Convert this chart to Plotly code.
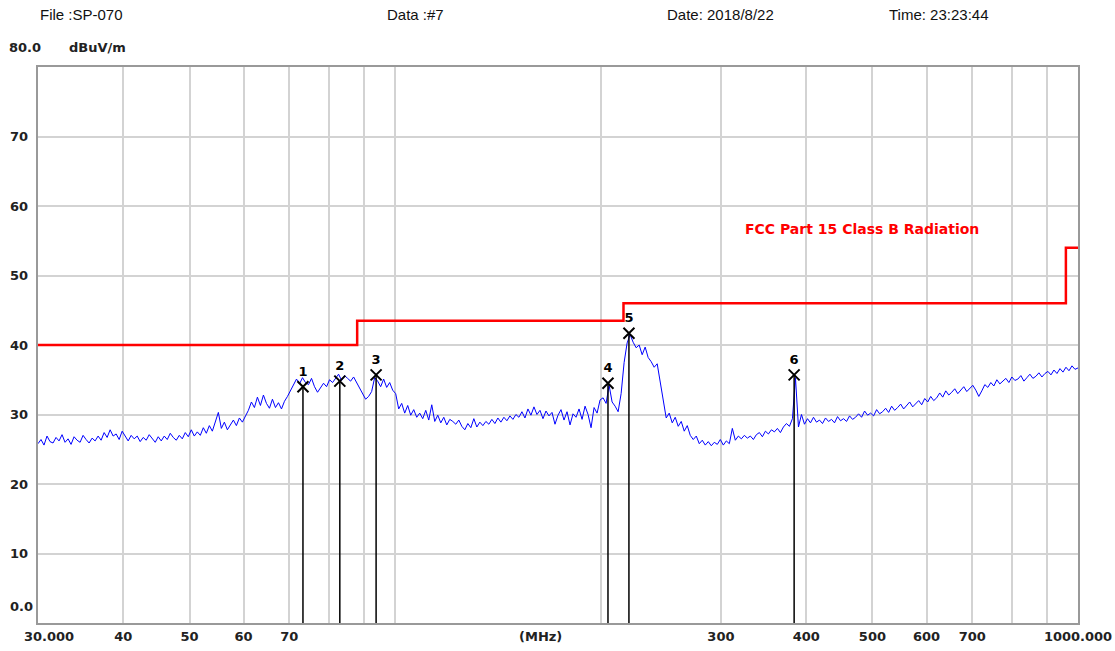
import numpy as np
import plotly.graph_objects as go

# ---------------- data ----------------
trace_vals = [
    25.8, 26.4, 25.6, 26.9, 26.1, 25.9, 26.7, 26.2, 27.1, 26.0, 26.5, 25.7, 26.8, 26.3, 26.0, 27.0, 26.4, 25.9, 26.6, 26.2,
    26.9, 26.3, 27.4, 26.7, 27.8, 26.9, 27.2, 26.4, 27.6, 26.8, 26.2, 27.0, 26.5, 26.9, 26.1, 26.7, 26.3, 27.1, 26.6, 26.0,
    26.8, 26.2, 26.9, 26.4, 27.3, 26.7, 26.3, 27.0, 26.5, 27.4, 26.8, 27.8, 26.9, 27.5, 27.0, 28.1, 27.3, 28.4, 27.6, 29.0,
    30.3, 28.0, 28.9, 27.8, 28.6, 29.2, 28.4, 29.5, 28.9, 29.8,
    30.6, 31.8, 31.0, 32.5, 31.3, 32.8, 31.6, 30.9, 32.2, 31.0, 31.7, 30.8, 31.9, 32.6,
    33.5, 34.2, 35.1, 34.4, 35.3, 34.6,
    34.3, 35.2, 34.0, 33.2, 33.8, 34.5, 34.0, 35.0, 34.6, 35.3,
    35.8, 34.9, 35.6, 35.2, 34.8, 35.4, 34.6, 33.8, 32.9, 32.2,
    32.6, 33.3, 35.3, 34.8, 34.0, 35.1, 33.9, 34.6, 33.5, 33.0,
    30.8, 31.6, 30.2, 31.3, 29.9, 30.7, 29.6, 30.2, 29.4, 30.6, 29.2, 31.4, 29.0, 29.9, 28.8, 29.6, 28.5, 29.3, 29.0, 28.6,
    29.2, 28.3, 27.8, 28.7, 28.1, 29.4, 28.2, 28.9, 28.4, 29.0, 28.6, 29.3, 28.7, 29.5, 28.9, 29.6, 29.1, 29.8, 29.3, 30.0,
    29.6, 30.4, 29.5, 30.8, 29.9, 31.1, 30.0, 30.6, 29.4, 30.5, 29.8, 30.3, 28.6, 29.9, 30.7, 29.2, 30.4, 28.5, 30.1, 29.6,
    30.8, 29.3, 31.2, 30.0, 28.1, 31.0, 30.2, 32.1, 32.4, 31.6, 34.2, 31.8, 31.2, 30.4, 33.0,
    37.5, 40.3, 41.5, 40.4, 39.6,
    40.0, 38.6, 39.7, 38.2, 37.6, 36.8, 37.3, 34.8, 32.5, 29.5,
    30.2, 28.8, 29.6, 28.3, 29.0, 27.6, 28.4, 27.0, 26.4, 26.9,
    25.8, 26.3, 25.6, 26.1, 25.5, 26.0, 25.7, 26.4, 25.6, 26.2, 25.8, 28.0, 26.3, 26.9, 26.5, 27.0, 26.6, 26.9, 26.4, 27.1,
    27.4, 26.8, 27.6, 27.2, 27.8, 27.5, 28.0, 27.4, 28.2, 28.7, 28.3, 29.4,
    35.3, 28.2,
    30.0, 28.6, 29.4, 28.8, 29.6, 28.9, 29.2, 28.7, 29.5, 29.0, 29.3, 28.8, 29.7, 29.1, 29.4, 29.0, 29.8, 29.3, 29.6, 30.1,
    29.6, 30.5, 29.9, 30.2, 29.8, 30.7, 30.1, 30.4, 30.9, 30.3, 31.2, 30.6, 31.0, 31.5, 30.8, 31.3, 31.8, 31.1, 31.6, 32.0,
    31.4, 32.3, 31.8, 32.6, 32.0, 32.4, 33.1, 32.5, 33.4, 32.8, 33.2, 33.7, 33.0, 33.5, 34.0, 33.3, 33.8, 34.2, 33.5, 32.6,
    33.4, 34.3, 33.9, 34.6, 34.1, 35.0, 34.4, 34.8, 35.2, 34.6, 35.4, 34.9, 35.1, 35.6, 34.8, 35.3, 35.8, 35.2, 35.5, 36.0,
    35.4, 35.9, 36.2, 35.7, 36.4, 35.9, 36.6, 36.1, 36.8, 36.3, 37.0, 36.5, 36.7,
]
f_start, f_stop = 30.0, 1000.0

limit_freq = [30, 88, 216, 960, 1000]
limit_level = [40.0, 43.5, 46.0, 54.0, 54.0]

marker_ids = ["1", "2", "3", "4", "5", "6"]
marker_freq = [73.3, 83.0, 93.8, 205.0, 220.0, 384.0]
marker_level = [34.0, 34.8, 35.7, 34.5, 41.7, 35.7]

grid_freq = [40, 50, 60, 70, 80, 90, 100, 200, 300, 400, 500, 600, 700, 800, 900]
tick_freq = [40, 50, 60, 70, 300, 400, 500, 600, 700, 1000]
tick_text = ["40", "50", "60", "70", "300", "400", "500", "600", "700", "1000.000"]
start_label = "30.000"
y_ticks = [10, 20, 30, 40, 50, 60, 70]
y_text = ["10", "20", "30", "40", "50", "60", "70"]

# ---------------- figure ----------------
freqs = np.geomspace(f_start, f_stop, len(trace_vals))
fig = go.Figure()

fig.add_trace(go.Scatter(x=freqs, y=trace_vals, mode="lines",
                         line=dict(color="#0000ff", width=1), hoverinfo="skip"))

fig.add_trace(go.Scatter(x=limit_freq, y=limit_level, mode="lines",
                         line=dict(color="#ff0000", width=2.5, shape="hv"), hoverinfo="skip"))

for f, v in zip(marker_freq, marker_level):
    fig.add_trace(go.Scatter(x=[f, f], y=[0, v], mode="lines",
                             line=dict(color="#000000", width=1.5), hoverinfo="skip"))

fig.add_trace(go.Scatter(x=marker_freq, y=marker_level, mode="markers+text",
                         marker=dict(symbol="x-thin", size=11, line=dict(color="#000000", width=2)),
                         text=marker_ids, textposition="top center",
                         textfont=dict(family="DejaVu Sans", size=13, color="#000000", weight="bold"),
                         hoverinfo="skip"))

LM, TM, PW, PH = 38, 67, 1040, 556


def px(xp):
    return (xp - LM) / PW


def py(yp):
    return (TM + PH - yp) / PH


annos = []
hdr = dict(family="Arial", size=15, color="#111111")
for txt, xp in [("File :SP-070", 38), ("Data :#7", 385), ("Date: 2018/8/22", 665), ("Time: 23:23:44", 887)]:
    annos.append(dict(text=txt, x=px(xp), y=py(15), xref="paper", yref="paper",
                      xanchor="left", yanchor="middle", showarrow=False, font=hdr))

bold = dict(family="DejaVu Sans", size=13, color="#222222", weight="bold")
annos.append(dict(text="80.0", x=px(7), y=py(48), xref="paper", yref="paper",
                  xanchor="left", yanchor="middle", showarrow=False, font=bold))
annos.append(dict(text="dBuV/m", x=px(67), y=py(48), xref="paper", yref="paper",
                  xanchor="left", yanchor="middle", showarrow=False, font=bold))
for v, t in zip(y_ticks, y_text):
    annos.append(dict(text=t, x=px(8), y=v, xref="paper", yref="y",
                      xanchor="left", yanchor="middle", showarrow=False, font=bold))
annos.append(dict(text="0.0", x=px(8), y=py(606), xref="paper", yref="paper",
                  xanchor="left", yanchor="middle", showarrow=False, font=bold))
annos.append(dict(text="(MHz)", x=px(540), y=py(636), xref="paper", yref="paper",
                  xanchor="center", yanchor="middle", showarrow=False, font=bold))
annos.append(dict(text=start_label, x=px(22), y=py(636), xref="paper", yref="paper",
                  xanchor="left", yanchor="middle", showarrow=False, font=bold))
annos.append(dict(text="FCC Part 15 Class B Radiation", x=px(862), y=py(229), xref="paper", yref="paper",
                  xanchor="center", yanchor="middle", showarrow=False,
                  font=dict(family="DejaVu Sans", size=14, color="#ff0000", weight="bold")))

all_ticks = sorted(set(grid_freq + tick_freq))
all_text = [tick_text[tick_freq.index(t)] if t in tick_freq else "" for t in all_ticks]

fig.update_layout(
    width=1115, height=651,
    margin=dict(l=LM, r=1115 - LM - PW, t=TM, b=651 - TM - PH, autoexpand=False),
    paper_bgcolor="white", plot_bgcolor="white",
    showlegend=False,
    annotations=annos,
    xaxis=dict(type="log", range=[np.log10(f_start), np.log10(f_stop)], automargin=False,
               tickvals=all_ticks, ticktext=all_text, ticks="",
               tickfont=bold, showgrid=True, gridcolor="#d3d3d3", gridwidth=2,
               showline=True, linecolor="#999999", linewidth=2, mirror=True, zeroline=False),
    yaxis=dict(range=[0, 80], tickvals=y_ticks, showticklabels=False, ticks="", automargin=False,
               showgrid=True, gridcolor="#d3d3d3", gridwidth=2,
               showline=True, linecolor="#999999", linewidth=2, mirror=True, zeroline=False),
)

fig.write_html("out.html", config={"displayModeBar": False},
               post_script="document.body.style.margin='0';document.body.style.overflow='hidden';")
